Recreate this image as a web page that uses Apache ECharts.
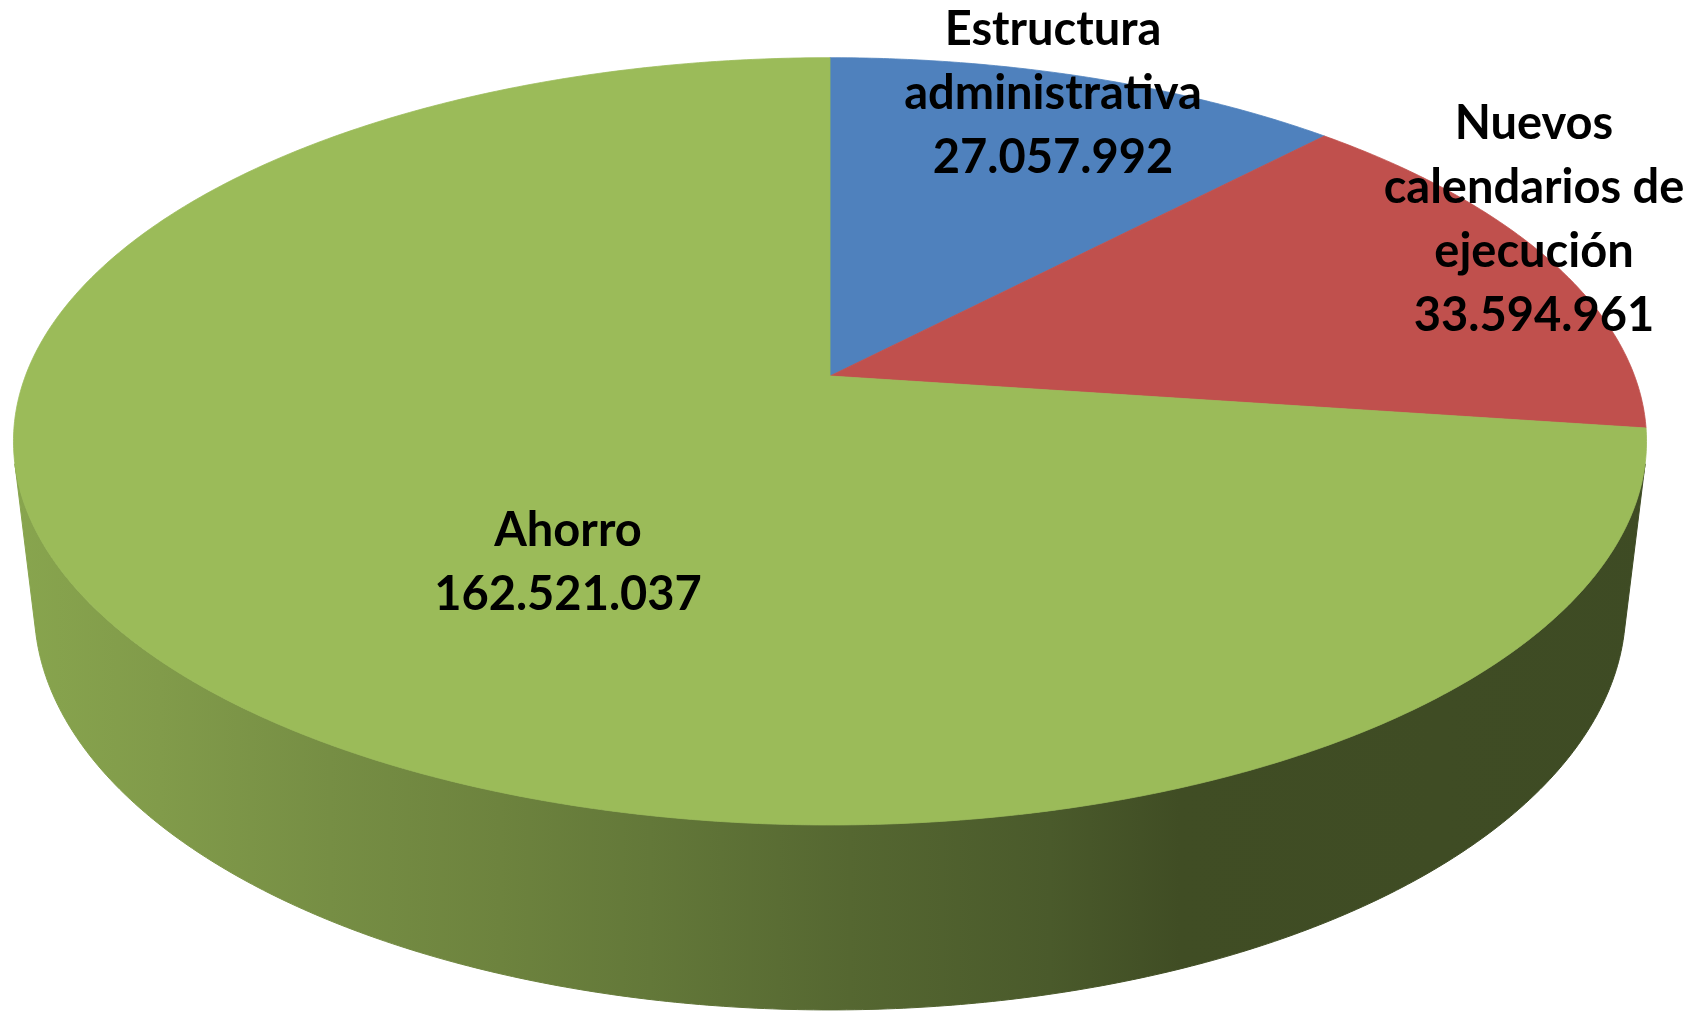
<!DOCTYPE html>
<html><head><meta charset="utf-8">
<script src="https://cdn.jsdelivr.net/npm/echarts@6/dist/echarts.min.js"></script>
<style>html,body{margin:0;padding:0;background:#fff}#c{width:1706px;height:1013px}</style>
</head><body><div id="c"></div>
<script>
// ---- data ----
const categories = ['Estructura administrativa', 'Nuevos calendarios de ejecución', 'Ahorro'];
const labelLines = [['Estructura', 'administrativa'], ['Nuevos', 'calendarios de', 'ejecución'], ['Ahorro']];
const values = [27057992, 33594961, 162521037];

// ---- styles / layout ----
const topColors = ['#4F81BD', '#C0504D', '#9BBB59'];
const labelPos = [[1053, 94], [1534, 220], [568, 563]];
const FONT = 'Lato';
const FONT_SIZE = 47;
const LINE_H = 64;
// perspective of the 3D pie (pixel layout)
const CX = 830, CY = 376, A = 804.6, B = 372.5, K = 0.1703, D = 169.6, M = 0.02546;
// side shading: [x pixel, brightness factor]
const shadeStops = [[13, 0.88], [160, 0.83], [330, 0.76], [500, 0.70], [650, 0.64], [850, 0.55], [1050, 0.48], [1180, 0.41], [1700, 0.40]];

function proj(phiDeg, drop) {
  const p = phiDeg * Math.PI / 180;
  const u = Math.sin(p), v = -Math.cos(p);
  const w = 1 - K * v + M * drop;
  return [CX + A * u / w, CY + (B * v + D * drop) / w];
}
function frontFacing(phi) {
  const e = 0.01;
  const t1 = proj(phi + e, 0), t0 = proj(phi - e, 0);
  const a = proj(phi, 0), b = proj(phi, 1);
  const dtx = t1[0] - t0[0], dty = t1[1] - t0[1];
  const dvx = b[0] - a[0], dvy = b[1] - a[1];
  return dtx * dvy - dty * dvx < 0;
}
let visLo = 360, visHi = 0;
for (let f = 0; f <= 360; f += 0.05) {
  if (frontFacing(f)) { visLo = Math.min(visLo, f); visHi = Math.max(visHi, f); }
}
function shade(hex, f) {
  const n = parseInt(hex.slice(1), 16);
  const r = Math.round(((n >> 16) & 255) * f), g = Math.round(((n >> 8) & 255) * f), b = Math.round((n & 255) * f);
  return 'rgb(' + r + ',' + g + ',' + b + ')';
}
function fmt(v) { return String(v).replace(/\B(?=(\d{3})+(?!\d))/g, '.'); }

const total = values.reduce((s, v) => s + v, 0);
const starts = [];
{ let acc = 0; values.forEach(v => { starts.push(acc / total * 360); acc += v; }); }

const chart = echarts.init(document.getElementById('c'), null, { renderer: 'canvas' });

function renderItem(params, api) {
  const i = params.dataIndex;
  const val = api.value(1);
  const a0 = starts[i], a1 = a0 + val / total * 360;
  const children = [];
  const c = (pt) => api.coord(pt);
  // side
  const s = Math.max(a0, visLo), e = Math.min(a1, visHi);
  if (e > s) {
    const pts = [];
    const n = Math.max(2, Math.ceil((e - s) / 0.5));
    for (let j = 0; j <= n; j++) pts.push(c(proj(s + (e - s) * j / n, 0)));
    for (let j = n; j >= 0; j--) pts.push(c(proj(s + (e - s) * j / n, 1)));
    const x0 = api.coord([0, 0])[0], x1 = api.coord([1706, 0])[0];
    const grad = new echarts.graphic.LinearGradient(x0, 0, x1, 0,
      shadeStops.map(st => ({ offset: st[0] / 1706, color: shade(topColors[i], st[1]) })), true);
    children.push({ type: 'polygon', z2: 1, shape: { points: pts },
      style: { fill: grad, stroke: grad, lineWidth: 1 } });
  }
  // top face
  const tp = [c([CX, CY])];
  const n2 = Math.max(2, Math.ceil((a1 - a0) / 0.5));
  for (let j = 0; j <= n2; j++) tp.push(c(proj(a0 + (a1 - a0) * j / n2, 0)));
  children.push({ type: 'polygon', z2: 5, shape: { points: tp },
    style: { fill: topColors[i], stroke: topColors[i], lineWidth: 0.8, lineJoin: 'round' } });
  // label
  const lp = c(labelPos[i]);
  children.push({ type: 'text', z2: 10, x: lp[0], y: lp[1],
    style: { text: labelLines[i].concat([fmt(val)]).join('\n'), fill: '#000',
      font: 'bold ' + FONT_SIZE + 'px ' + FONT, lineHeight: LINE_H,
      align: 'center', verticalAlign: 'middle' } });
  return { type: 'group', children: children };
}

chart.setOption({
  animation: false,
  backgroundColor: '#ffffff',
  grid: { left: 0, right: 0, top: 0, bottom: 0 },
  xAxis: { type: 'value', min: 0, max: 1706, show: false },
  yAxis: { type: 'value', min: 0, max: 1013, inverse: true, show: false },
  series: [{
    type: 'custom',
    name: 'Pie 3D',
    coordinateSystem: 'cartesian2d',
    encode: { x: 0, y: 1 },
    data: values.map((v, i) => ({ name: categories[i], value: [i, v] })),
    renderItem: renderItem,
    silent: true
  }]
});
</script>
</body></html>
